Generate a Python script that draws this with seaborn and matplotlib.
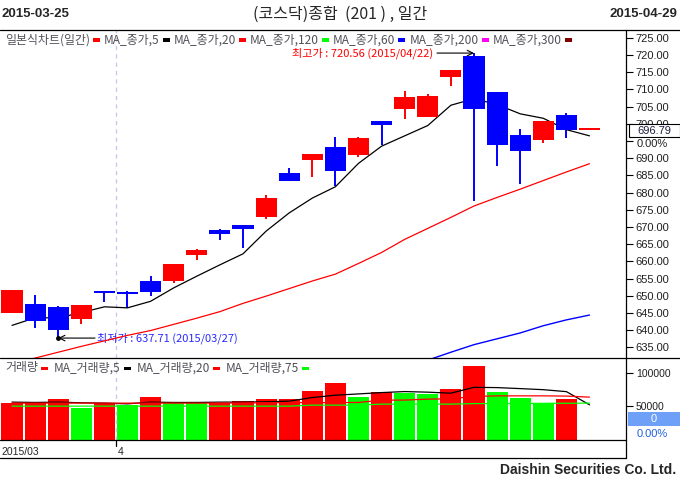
import numpy as np
import pandas as pd
import seaborn as sns
import matplotlib.pyplot as plt
from matplotlib.lines import Line2D
from matplotlib.patches import Rectangle

# ---- data ----
dates = ["2015/03/25", "2015/03/26", "2015/03/27", "2015/03/30", "2015/03/31",
         "2015/04/01", "2015/04/02", "2015/04/03", "2015/04/06", "2015/04/07",
         "2015/04/08", "2015/04/09", "2015/04/10", "2015/04/13", "2015/04/14",
         "2015/04/15", "2015/04/16", "2015/04/17", "2015/04/20", "2015/04/21",
         "2015/04/22", "2015/04/23", "2015/04/24", "2015/04/27", "2015/04/28",
         "2015/04/29"]
opens = [644.9, 647.7, 646.6, 643.4, 651.5, 651.1, 654.4, 654.2, 661.8, 669.0,
         670.7, 672.8, 685.8, 689.4, 693.4, 690.9, 700.7, 704.4, 701.9, 713.5,
         719.6, 709.2, 696.6, 695.2, 702.7, 698.2]
highs = [651.8, 650.3, 646.9, 647.4, 651.5, 651.3, 655.9, 659.1, 663.7, 669.4,
         670.7, 679.3, 687.2, 691.1, 696.3, 696.3, 700.7, 709.4, 708.8, 715.5,
         720.56, 709.2, 698.6, 700.7, 703.0, 698.2]
lows = [644.9, 640.7, 637.71, 641.7, 648.1, 646.5, 650.0, 653.6, 660.3, 666.1,
        663.8, 672.4, 683.3, 684.5, 682.0, 690.3, 693.8, 701.5, 701.9, 710.9,
        677.5, 687.7, 682.6, 694.3, 695.8, 698.2]
closes = [651.8, 642.6, 640.0, 647.4, 650.9, 650.6, 651.0, 659.1, 663.4, 667.9,
          669.3, 678.5, 683.3, 691.1, 686.2, 696.0, 699.6, 707.9, 708.2, 715.5,
          704.4, 693.8, 692.0, 700.7, 698.1, 698.2]
ma5 = [641.4, 643.6, 643.6, 645.1, 646.8, 646.5, 648.4, 652.3, 655.7, 659.0,
       662.2, 668.8, 674.1, 678.4, 681.7, 688.5, 693.5, 696.5, 699.5, 705.4,
       707.3, 705.6, 702.9, 701.6, 698.3, 696.5]
ma20 = [630.3, 631.9, 633.6, 635.3, 636.9, 638.5, 639.9, 641.7, 643.5, 645.4,
        647.8, 649.9, 652.1, 654.3, 656.3, 659.4, 662.6, 666.4, 669.6, 672.8,
        676.1, 678.6, 681.0, 683.5, 686.0, 688.4]
ma60 = [np.nan] * 18 + [631.3, 633.6, 635.8, 637.5, 639.2, 641.3, 643.0, 644.4]

volume = [55300, 56400, 60800, 47900, 54500, 52400, 63800, 54500, 54500, 55300,
          57900, 60800, 60800, 72700, 84600, 63800, 71200, 69700, 68200, 75700,
          109800, 70800, 62300, 54900, 60800, 0]
vol_dir = ["up", "up", "up", "down", "up", "down", "up", "down", "down", "up",
           "up", "up", "up", "up", "up", "down", "up", "down", "down", "up",
           "up", "down", "down", "down", "up", "up"]
vol_ma5 = [56000, 55500, 56000, 55000, 54500, 53400, 56000, 55500, 55500, 56000,
           56000, 56500, 57400, 62800, 66300, 68200, 70200, 71700, 70800, 69300,
           78000, 77600, 76100, 74500, 71600, 52000]
vol_ma20 = [54500, 54500, 54500, 54500, 54500, 54500, 54500, 54500, 54500, 54500,
            54800, 55000, 55300, 55300, 55300, 55500, 58900, 59000, 60400, 61000,
            64500, 65300, 65300, 65300, 65000, 63400]
vol_ma75 = [50000] * 13 + [51500, 51500, 51500, 53000, 53000, 53000, 53000,
                           53800, 53800, 54000, 54200, 54300, 54500]

current_price = "696.79"
price_legend = [("일본식차트(일간)", "#ff0000"), ("MA_종가,5", "#000000"),
                ("MA_종가,20", "#ff0000"), ("MA_종가,120", "#00ff00"),
                ("MA_종가,60", "#0000ff"), ("MA_종가,200", "#ff00ff"),
                ("MA_종가,300", "#800000")]
vol_legend = [("거래량", "#ff0000"), ("MA_거래량,5", "#000000"),
              ("MA_거래량,20", "#ff0000"), ("MA_거래량,75", "#00ff00")]
price_ticks = list(range(635, 726, 5))
vol_ticks = [50000, 100000]

# ---- layout helpers (pixel -> figure fraction) ----
W, H = 680, 484
STEP, X0 = 23.1, 12


def fx(px):
    return px / W


def fy(py):
    return 1 - py / H


def px_idx(px):
    return (px - X0) / STEP


sns.set_style("white")
plt.rcParams["font.family"] = ["Noto Sans CJK KR", "DejaVu Sans"]
LAT = ["Liberation Sans", "DejaVu Sans"]

fig = plt.figure(figsize=(6.8, 4.84), dpi=100)
pax = fig.add_axes([0, fy(358), fx(626), (358 - 30) / H])
vax = fig.add_axes([0, fy(440), fx(626), (440 - 358) / H])

df = pd.DataFrame({"idx": range(len(dates)), "open": opens, "high": highs,
                   "low": lows, "close": closes, "ma5": ma5, "ma20": ma20,
                   "ma60": ma60, "vol": volume, "dir": vol_dir,
                   "vma5": vol_ma5, "vma20": vol_ma20, "vma75": vol_ma75})

# ---- candles ----
up = df["close"] >= df["open"]
ccol = np.where(up, "#ff0000", "#0000ff")
pax.vlines(df["idx"], df["low"], df["high"], colors=ccol, lw=1.4, zorder=2)
body = np.maximum((df["close"] - df["open"]).abs(), 0.5)
pax.bar(df["idx"], body, bottom=np.minimum(df["open"], df["close"]),
        width=0.91, color=ccol, linewidth=0, zorder=5)

sns.lineplot(data=df, x="idx", y="ma5", color="black", lw=0.9, ax=pax, zorder=4)
sns.lineplot(data=df, x="idx", y="ma20", color="#ff0000", lw=0.9, ax=pax, zorder=4)
sns.lineplot(data=df, x="idx", y="ma60", color="#0000ff", lw=1.0, ax=pax, zorder=4)

# high / low annotations
hi = int(np.argmax(highs))
lo = int(np.argmin(lows))
pax.annotate("", xy=(hi, highs[hi]), xytext=(px_idx(437), highs[hi]),
             arrowprops=dict(arrowstyle="->", color="black", lw=0.8,
                             shrinkA=0, shrinkB=0))
pax.text(px_idx(433), highs[hi], f"최고가 : {highs[hi]:.2f} ({dates[hi]})",
         color="#ff0000", ha="right", va="center", fontsize=8)
pax.annotate("", xy=(lo, lows[lo]), xytext=(px_idx(95), lows[lo]),
             arrowprops=dict(arrowstyle="->", color="black", lw=0.8,
                             shrinkA=0, shrinkB=0))
pax.plot([lo], [lows[lo]], "o", ms=2.5, color="black")
pax.text(px_idx(97), lows[lo], f"최저가 : {lows[lo]:.2f} ({dates[lo]})",
         color="#2a2aff", ha="left", va="center", fontsize=8)

# ---- volume ----
sns.barplot(data=df, x="idx", y="vol", hue="dir",
            palette={"up": "#ff0000", "down": "#00ff00"}, dodge=False,
            width=0.91, saturation=1, linewidth=0, legend=False, ax=vax)
sns.lineplot(data=df, x="idx", y="vma5", color="black", lw=0.9, ax=vax)
sns.lineplot(data=df, x="idx", y="vma20", color="#ff0000", lw=0.9, ax=vax)
sns.lineplot(data=df, x="idx", y="vma75", color="#00ff00", lw=0.9, ax=vax)

# ---- axes styling ----
for ax in (pax, vax):
    ax.set_xlim(px_idx(0), px_idx(626))
    ax.set_xlabel("")
    ax.set_ylabel("")
    ax.set_xticks([])
    for s in ax.spines.values():
        s.set_visible(False)
    ax.yaxis.tick_right()
    ax.tick_params(axis="y", direction="out", length=5, width=0.8,
                   color="black", labelsize=8, pad=2, labelcolor="#202020",
                   labelfontfamily="Liberation Sans")
    ax.axvline(4.5, color="#c8c8ee", lw=1, ls=(0, (3, 3)), zorder=1)

pax.set_ylim(725 - (358 - 37.8) / 3.44, 725 + (37.8 - 30) / 3.44)
pax.set_yticks(price_ticks)
# 695.00 sits fully under the current-price box in the reference
pax.set_yticklabels(["" if v == 695 else f"{v:.2f}" for v in price_ticks])
vax.set_ylim(-400, (440 - 358) / 33.7 * 50000)
vax.set_yticks(vol_ticks)
vax.set_yticklabels([str(v) for v in vol_ticks], fontsize=7.5)


# ---- frame lines ----
def hline(y, x0, x1):
    fig.add_artist(Line2D([fx(x0), fx(x1)], [fy(y), fy(y)], color="black",
                          lw=0.9, transform=fig.transFigure))


hline(30, 0, 680)
hline(358, 0, 680)
hline(440, 0, 626)
hline(458, 0, 626)
fig.add_artist(Line2D([fx(626), fx(626)], [fy(30), fy(458)], color="black",
                      lw=0.9, transform=fig.transFigure))
fig.add_artist(Line2D([fx(116), fx(116)], [fy(440), fy(446)], color="black",
                      lw=0.9, transform=fig.transFigure))

# ---- header / footer ----
fig.text(fx(2), fy(14), dates[0].replace("/", "-"), fontsize=9.5,
         fontweight="bold", family=LAT, ha="left", va="center")
fig.text(fx(677), fy(14), dates[-1].replace("/", "-"), fontsize=9.5,
         fontweight="bold", family=LAT, ha="right", va="center")
fig.text(fx(340), fy(14), "(코스닥)종합  (201 ) , 일간", fontsize=11.5,
         ha="center", va="center")
fig.text(fx(676), fy(470), "Daishin Securities Co. Ltd.", fontsize=10,
         fontweight="bold", family=["Liberation Sans Narrow", "Liberation Sans"],
         ha="right", va="center")
fig.text(fx(1), fy(452), "2015/03", fontsize=7.5, family=LAT, ha="left", va="center")
fig.text(fx(118), fy(452), "4", fontsize=7.5, family=LAT, ha="left", va="center")

# ---- legends ----
renderer = fig.canvas.get_renderer()


def legend_row(items, x, y, gap):
    for label, col in items:
        t = fig.text(fx(x), fy(y), label, fontsize=8.6, color="#505058",
                     ha="left", va="center")
        bb = t.get_window_extent(renderer)
        x = bb.x1 + 3
        fig.add_artist(Rectangle((fx(x), fy(y + 1.5)), 7 / W, 3 / H,
                                 facecolor=col, edgecolor="none",
                                 transform=fig.transFigure))
        x += gap


legend_row(price_legend, 5, 40, 11)
legend_row(vol_legend, 5, 368, 13)

# ---- right side value boxes ----
fig.add_artist(Rectangle((fx(629), fy(137)), 50.5 / W, 13 / H, facecolor="white",
                         edgecolor="black", lw=0.8, transform=fig.transFigure))
fig.text(fx(654.5), fy(130.5), current_price, fontsize=8, family=LAT,
         color="#202040", ha="center", va="center")
fig.text(fx(652), fy(144), "0.00%", fontsize=8, family=LAT, color="#202020",
         ha="center", va="center",
         bbox=dict(facecolor="white", edgecolor="none", pad=0.6))
fig.add_artist(Rectangle((fx(628), fy(426)), 52 / W, 14 / H, facecolor="#6fa0f7",
                         edgecolor="none", transform=fig.transFigure))
fig.text(fx(654), fy(419), "0", fontsize=8, family=LAT, color="white",
         ha="center", va="center")
fig.text(fx(652), fy(434), "0.00%", fontsize=8, family=LAT, color="#2060e0",
         ha="center", va="center")

fig.savefig("out.png", dpi=100, facecolor="white")
